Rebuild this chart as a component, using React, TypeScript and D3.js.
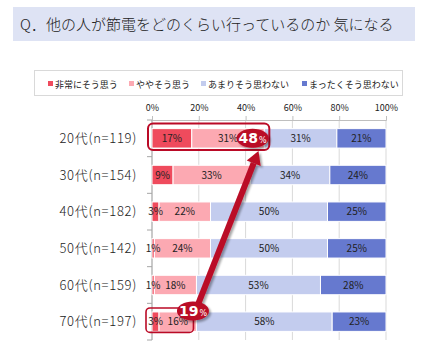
import React, { useEffect, useRef } from 'react';
import * as d3 from 'd3';

const categories = ['20代(n=119)', '30代(n=154)', '40代(n=182)', '50代(n=142)', '60代(n=159)', '70代(n=197)'];
const seriesNames = ['非常にそう思う', 'ややそう思う', 'あまりそう思わない', 'まったくそう思わない'];
const veryMuch = [17, 9, 3, 1, 1, 3];
const somewhat = [31, 33, 22, 24, 18, 16];
const notMuch = [31, 34, 50, 50, 53, 58];
const notAtAll = [21, 24, 25, 25, 28, 23];
const xTicks = [0, 20, 40, 60, 80, 100];
const callouts = [
  { category: '20代(n=119)', value: 48 },
  { category: '70代(n=197)', value: 19 },
];

const colors = ['#EF4B5D', '#FCA9B2', '#C3CCEE', '#6679CF'];
const accent = '#BA0A26';
const FONT = '"Noto Sans CJK JP", "Noto Sans", sans-serif';

export default function App() {
  const svgRef = useRef<SVGSVGElement>(null);

  useEffect(() => {
    const svg = d3.select(svgRef.current);
    svg.selectAll('*').remove();

    const defs = svg.append('defs');
    const filter = defs.append('filter').attr('id', 'shadow').attr('x', '-50%').attr('y', '-50%').attr('width', '200%').attr('height', '200%');
    filter.append('feDropShadow').attr('dx', 2).attr('dy', 2).attr('stdDeviation', 1.2).attr('flood-color', '#000').attr('flood-opacity', 0.35);

    // title
    svg.append('rect').attr('x', 13).attr('y', 7).attr('width', 402).attr('height', 34).attr('fill', '#DEE3F4');
    svg
      .append('text')
      .attr('x', 20)
      .attr('y', 29.5)
      .attr('font-family', FONT)
      .attr('font-size', 15)
      .attr('font-weight', 300)
      .attr('fill', '#222')
      .text('Q．他の人が節電をどのくらい行っているのか 気になる');

    // legend
    svg.append('rect').attr('x', 34.5).attr('y', 70.5).attr('width', 368).attr('height', 25).attr('fill', '#fff').attr('stroke', '#D9D9D9');
    const legendX = [48, 129, 201, 302];
    const legend = svg
      .append('g')
      .selectAll('g')
      .data(seriesNames)
      .join('g')
      .attr('transform', (d, i) => `translate(${legendX[i]}, 84)`);
    legend.append('rect').attr('x', 0).attr('y', -3).attr('width', 5).attr('height', 5).attr('fill', (d, i) => colors[i]);
    legend
      .append('text')
      .attr('x', 7)
      .attr('y', 3.5)
      .attr('font-family', FONT)
      .attr('font-size', 9)
      .attr('fill', '#222')
      .text((d) => d);

    const x = d3.scaleLinear().domain([0, 100]).range([152, 386]);
    const y = d3.scaleBand().domain(categories).range([120, 340]).paddingInner(0.47).paddingOuter(0.235);

    // gridlines
    svg
      .append('g')
      .selectAll('line')
      .data(xTicks)
      .join('line')
      .attr('x1', (d) => x(d))
      .attr('x2', (d) => x(d))
      .attr('y1', 120)
      .attr('y2', 340)
      .attr('stroke', '#D9D9D9');

    // top axis
    const xAxis = svg
      .append('g')
      .attr('transform', 'translate(0, 120)')
      .call(d3.axisTop(x).tickValues(xTicks).tickFormat((d) => `${d}%`).tickSize(4).tickPadding(5));
    xAxis.select('.domain').attr('stroke', '#BFBFBF');
    xAxis.selectAll('.tick line').attr('stroke', '#BFBFBF');
    xAxis.selectAll('.tick text').attr('font-family', FONT).attr('font-size', 9).attr('fill', '#222');

    // left axis
    const [y0, y1] = y.range();
    svg.append('line').attr('x1', x(0)).attr('x2', x(0)).attr('y1', y0).attr('y2', y1).attr('stroke', '#A6A6A6');
    svg
      .append('g')
      .selectAll('line')
      .data(d3.range(categories.length + 1))
      .join('line')
      .attr('x1', x(0) - 5)
      .attr('x2', x(0))
      .attr('y1', (i) => y0 + i * y.step())
      .attr('y2', (i) => y0 + i * y.step())
      .attr('stroke', '#A6A6A6');
    svg
      .append('g')
      .selectAll('text')
      .data(categories)
      .join('text')
      .attr('x', 137)
      .attr('y', (d) => y(d) + y.bandwidth() / 2 + 4.5)
      .attr('text-anchor', 'end')
      .attr('font-family', FONT)
      .attr('font-size', 13)
      .attr('font-weight', 300)
      .attr('letter-spacing', 0.7)
      .attr('fill', '#222')
      .text((d) => d);

    // stacked bars
    const rows = categories.map((c, i) => ({
      group: c,
      [seriesNames[0]]: veryMuch[i],
      [seriesNames[1]]: somewhat[i],
      [seriesNames[2]]: notMuch[i],
      [seriesNames[3]]: notAtAll[i],
    }));
    const series = d3.stack().keys(seriesNames)(rows as any);

    svg
      .append('g')
      .selectAll('g')
      .data(series)
      .join('g')
      .attr('fill', (d, i) => colors[i])
      .selectAll('rect')
      .data((d) => d)
      .join('rect')
      .attr('x', (d) => x(d[0]))
      .attr('y', (d: any) => y(d.data.group))
      .attr('width', (d) => x(d[1]) - x(d[0]))
      .attr('height', y.bandwidth())
      .attr('stroke', '#fff')
      .attr('stroke-width', 1);

    // segment labels drawn after every bar so small ones stay visible
    svg
      .append('g')
      .selectAll('g')
      .data(series)
      .join('g')
      .selectAll('text')
      .data((d) => d)
      .join('text')
      .attr('x', (d) => (x(d[0]) + x(d[1])) / 2)
      .attr('y', (d: any) => y(d.data.group) + y.bandwidth() / 2 + 3.5)
      .attr('text-anchor', 'middle')
      .attr('font-family', FONT)
      .attr('font-size', 10)
      .attr('fill', '#222')
      .text((d) => `${d[1] - d[0]}%`);

    // callout frames
    const top = callouts[0];
    const bottom = callouts[1];
    svg
      .append('rect')
      .attr('x', x(0) - 4)
      .attr('y', y(top.category) - 5)
      .attr('width', x(top.value) - x(0) + 9)
      .attr('height', y.bandwidth() + 7)
      .attr('rx', 5)
      .attr('fill', 'none')
      .attr('stroke', accent)
      .attr('stroke-width', 2);
    svg
      .append('rect')
      .attr('x', x(0) - 6)
      .attr('y', y(bottom.category) - 4)
      .attr('width', x(bottom.value) - x(0) + 3)
      .attr('height', y.bandwidth() + 5)
      .attr('rx', 4)
      .attr('fill', 'none')
      .attr('stroke', accent)
      .attr('stroke-width', 1.6);

    // arrow from 70代 to 20代
    const ax1 = x(bottom.value) + 1;
    const ay1 = y(bottom.category) - 6;
    const ax2 = x(top.value - 2.5);
    const ay2 = y(top.category) + y.bandwidth() + 3;
    const ang = Math.atan2(ay2 - ay1, ax2 - ax1);
    const headLen = 13;
    const headW = 7.5;
    const bx = ax2 - headLen * Math.cos(ang);
    const by = ay2 - headLen * Math.sin(ang);
    const px = -Math.sin(ang);
    const py = Math.cos(ang);
    const arrow = svg.append('g').attr('filter', 'url(#shadow)');
    arrow
      .append('line')
      .attr('x1', ax1)
      .attr('y1', ay1)
      .attr('x2', bx)
      .attr('y2', by)
      .attr('stroke', accent)
      .attr('stroke-width', 6);
    arrow
      .append('path')
      .attr('d', `M${ax2},${ay2} L${bx + px * headW},${by + py * headW} L${bx - px * headW},${by - py * headW} Z`)
      .attr('fill', accent);

    // bubbles
    const bubbles = [
      { cx: x(top.value - 5), cy: y(top.category) + y.bandwidth() / 2, value: top.value },
      { cx: x(bottom.value - 1.5), cy: y(bottom.category) - 1, value: bottom.value },
    ];
    const b = svg
      .append('g')
      .selectAll('g')
      .data(bubbles)
      .join('g')
      .attr('transform', (d) => `translate(${d.cx}, ${d.cy})`);
    b.append('ellipse').attr('rx', 16).attr('ry', 9.5).attr('fill', accent).attr('filter', 'url(#shadow)');
    const t = b
      .append('text')
      .attr('text-anchor', 'middle')
      .attr('y', 5)
      .attr('font-family', '"DejaVu Sans", sans-serif')
      .attr('font-weight', 'bold')
      .attr('fill', '#fff');
    t.append('tspan').attr('font-size', 14).text((d) => d.value);
    t.append('tspan').attr('font-size', 8).attr('font-weight', 'normal').attr('dx', 1).text('%');
  }, []);

  return (
    <svg
      ref={svgRef}
      width={440}
      height={350}
      style={{ position: 'absolute', left: 0, top: 0, background: '#fff' }}
    />
  );
}
